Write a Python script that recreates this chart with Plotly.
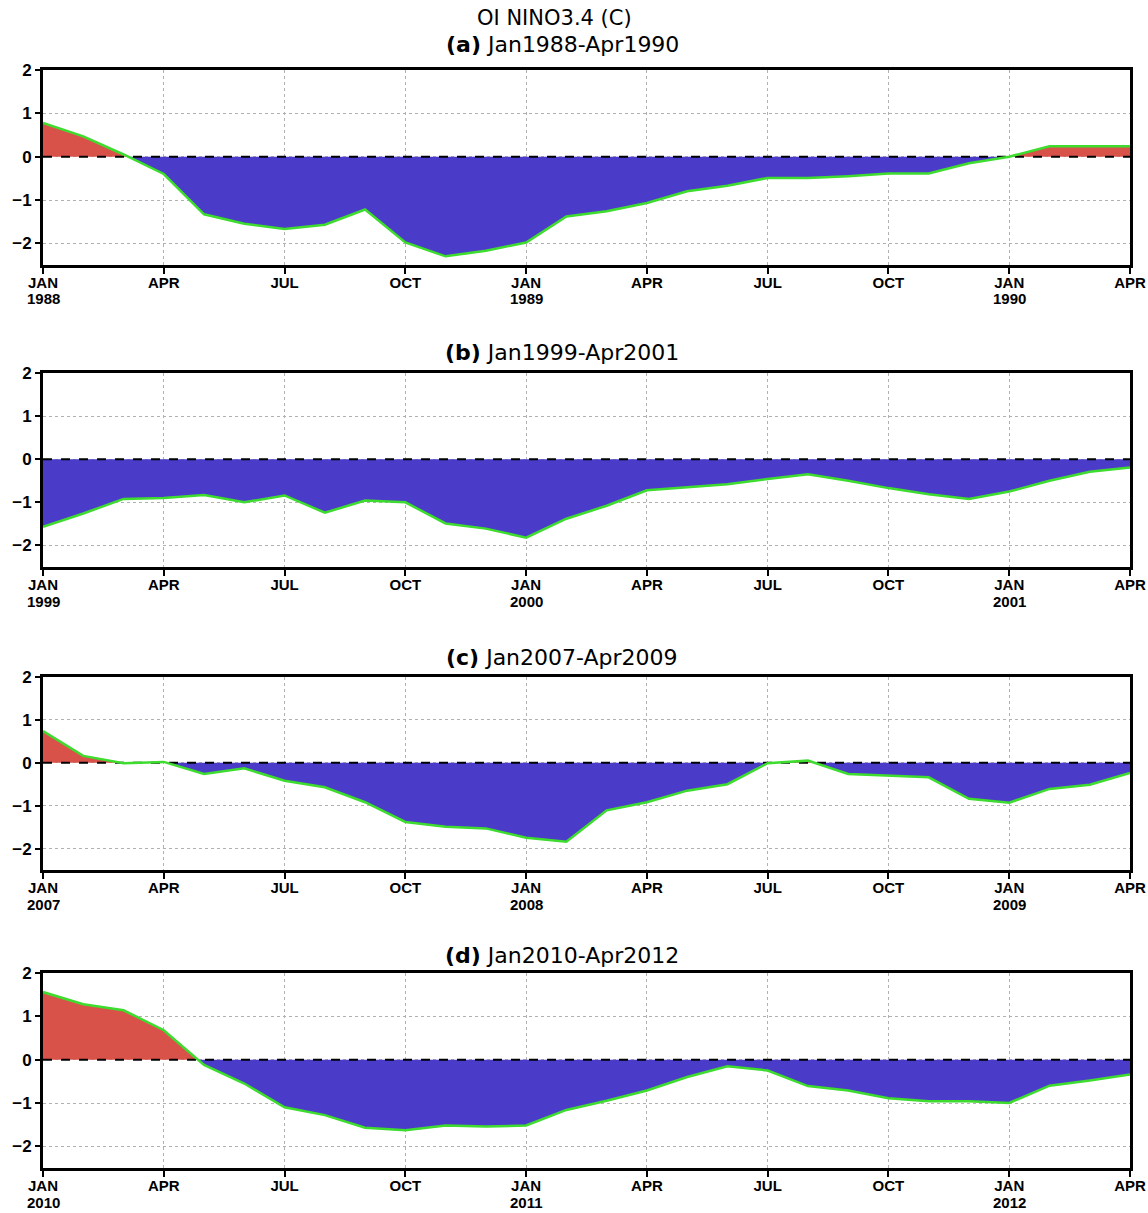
import numpy as np
import plotly.graph_objects as go

# ---------------- data (monthly Nino3.4 anomalies, deg C) ----------------
main_title = "OI NINO3.4 (C)"
panel_labels = ["(a)", "(b)", "(c)", "(d)"]
panel_periods = ["Jan1988-Apr1990", "Jan1999-Apr2001", "Jan2007-Apr2009", "Jan2010-Apr2012"]

vals_a = [0.78, 0.47, 0.05, -0.40, -1.33, -1.55, -1.67, -1.57, -1.22, -1.98, -2.30, -2.17,
          -1.98, -1.38, -1.26, -1.07, -0.80, -0.67, -0.49, -0.49, -0.45, -0.39, -0.39, -0.15,
          0.00, 0.24, 0.24, 0.24]
vals_b = [-1.57, -1.26, -0.92, -0.90, -0.83, -1.00, -0.84, -1.24, -0.96, -1.00, -1.49, -1.61,
          -1.82, -1.38, -1.08, -0.72, -0.65, -0.58, -0.46, -0.35, -0.50, -0.67, -0.81, -0.92,
          -0.75, -0.50, -0.29, -0.19]
vals_c = [0.74, 0.16, -0.01, 0.02, -0.26, -0.13, -0.42, -0.57, -0.92, -1.38, -1.49, -1.53,
          -1.75, -1.84, -1.11, -0.92, -0.65, -0.50, -0.01, 0.05, -0.26, -0.30, -0.34, -0.84,
          -0.93, -0.61, -0.51, -0.24]
vals_d = [1.56, 1.28, 1.14, 0.68, -0.12, -0.55, -1.10, -1.28, -1.57, -1.63, -1.52, -1.54,
          -1.52, -1.16, -0.95, -0.71, -0.40, -0.15, -0.25, -0.61, -0.71, -0.89, -0.96, -0.96,
          -1.00, -0.60, -0.48, -0.34]
series = [vals_a, vals_b, vals_c, vals_d]

month_names = ["JAN", "APR", "JUL", "OCT", "JAN", "APR", "JUL", "OCT", "JAN", "APR"]
years = [["1988", "1989", "1990"], ["1999", "2000", "2001"],
         ["2007", "2008", "2009"], ["2010", "2011", "2012"]]
ytick_vals = [-2, -1, 0, 1, 2]
ytick_text = ["\u22122", "\u22121", "0", "1", "2"]

# ---------------- style / layout ----------------
W, H = 1148, 1213
x_left, x_right = 43, 1130
panel_px = [(70, 265), (373, 567), (677, 870), (973, 1168)]  # top, bottom in pixels
title_px = [45, 353, 657, 955]
RED = "#d8524a"
BLUE = "#4a3cc8"
GREEN = "#3ddc2e"
XFONT = dict(family="Liberation Sans, Arial, sans-serif", size=15, color="black", weight="bold")
YFONT = dict(family="Liberation Sans, Arial, sans-serif", size=17, color="black", weight="bold")
TFONT = dict(family="DejaVu Sans, sans-serif", size=22, color="black")
MFONT = dict(family="DejaVu Sans, sans-serif", size=21, color="black")


def split_zero(x, y):
    xs, ys = [x[0]], [y[0]]
    for i in range(1, len(y)):
        if y[i - 1] * y[i] < 0:
            t = y[i - 1] / (y[i - 1] - y[i])
            xs.append(x[i - 1] + t)
            ys.append(0.0)
        xs.append(x[i])
        ys.append(y[i])
    ys = np.array(ys)
    return np.array(xs), np.maximum(ys, 0), np.minimum(ys, 0)


fig = go.Figure()
annotations = []
for k, vals in enumerate(series):
    n = len(vals)
    x = np.arange(n, dtype=float)
    xs, pos, neg = split_zero(x, vals)
    xa = "x" if k == 0 else f"x{k+1}"
    ya = "y" if k == 0 else f"y{k+1}"
    fig.add_trace(go.Scatter(x=xs, y=pos, mode="lines", line=dict(width=0, color=RED),
                             fill="tozeroy", fillcolor=RED, xaxis=xa, yaxis=ya,
                             hoverinfo="skip", showlegend=False))
    fig.add_trace(go.Scatter(x=xs, y=neg, mode="lines", line=dict(width=0, color=BLUE),
                             fill="tozeroy", fillcolor=BLUE, xaxis=xa, yaxis=ya,
                             hoverinfo="skip", showlegend=False))
    fig.add_trace(go.Scatter(x=[x[0], x[-1]], y=[0, 0], mode="lines",
                             line=dict(width=2, color="black", dash="dash"),
                             xaxis=xa, yaxis=ya, hoverinfo="skip", showlegend=False))
    fig.add_trace(go.Scatter(x=x, y=vals, mode="lines", line=dict(width=2.5, color=GREEN),
                             xaxis=xa, yaxis=ya, showlegend=False))

    tickvals = list(range(0, n, 3))
    top, bot = panel_px[k]
    xkey = "xaxis" if k == 0 else f"xaxis{k+1}"
    ykey = "yaxis" if k == 0 else f"yaxis{k+1}"
    fig.update_layout(**{
        xkey: dict(domain=[x_left / W, x_right / W], range=[0, n - 1], anchor=ya,
                   tickmode="array", tickvals=tickvals, ticktext=month_names,
                   ticks="outside", ticklen=6, tickwidth=2, tickcolor="black",
                   ticklabelstandoff=-4,
                   tickfont=XFONT, showgrid=True, gridcolor="#b0b0b0", griddash="dot",
                   gridwidth=1, showline=True, linecolor="black", linewidth=3, mirror=True,
                   zeroline=False, fixedrange=True, automargin=False),
        ykey: dict(domain=[1 - bot / H, 1 - top / H], range=[-2.5, 2], anchor=xa,
                   tickmode="array", tickvals=ytick_vals, ticktext=ytick_text,
                   ticks="outside", ticklen=5, tickwidth=2, tickcolor="black",
                   tickfont=YFONT, showgrid=True, gridcolor="#b0b0b0",
                   griddash="dot", gridwidth=1, showline=True, linecolor="black",
                   linewidth=3, mirror=True, zeroline=False, fixedrange=True,
                   automargin=False),
    })
    # year labels under the JAN ticks
    jan_idx = [v for v, m in zip(tickvals, month_names) if m == "JAN"]
    for v, yr in zip(jan_idx, years[k]):
        annotations.append(dict(text=yr, x=v, xref=xa, y=1 - (bot + 34) / H, yref="paper",
                                showarrow=False, xanchor="center", yanchor="middle",
                                font=XFONT))
    annotations.append(dict(text=f"<b>{panel_labels[k]}</b> {panel_periods[k]}",
                            x=562 / W, y=1 - title_px[k] / H, xref="paper", yref="paper",
                            showarrow=False, xanchor="center", yanchor="middle", font=TFONT))

annotations.append(dict(text=main_title, x=554 / W, y=1 - 18 / H, xref="paper", yref="paper",
                        showarrow=False, xanchor="center", yanchor="middle", font=MFONT))

fig.update_layout(width=W, height=H, margin=dict(l=0, r=0, t=0, b=0, autoexpand=False),
                  paper_bgcolor="white", plot_bgcolor="white", annotations=annotations,
                  showlegend=False)

fig.write_html("out.html", config={"displayModeBar": False},
               post_script="document.body.style.margin='0';document.body.style.overflow='hidden';")
